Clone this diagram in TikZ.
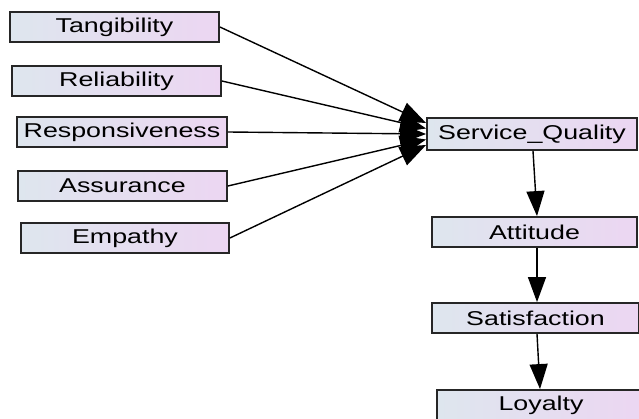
\documentclass[tikz,border=0pt]{standalone}
\usepackage{fontspec}
\setmainfont{Liberation Sans}
\usetikzlibrary{arrows.meta}
\definecolor{boxleft}{RGB}{222,230,238}
\definecolor{boxright}{RGB}{236,214,242}
\begin{document}
\begin{tikzpicture}[x=1pt,y=-1pt,
  var/.style={draw=black!85, line width=1.8pt, rectangle, inner sep=0pt,
    left color=boxleft, right color=boxright,
    minimum height=30pt, font=\fontsize{20}{20}\selectfont},
  link/.style={line width=1.4pt, -{Triangle[length=25pt,width=18pt]}},
  fanin/.style={line width=1.4pt, -{Triangle[length=26pt,width=20pt]}}
]
\useasboundingbox (0,0) rectangle (639,419);
\newcommand\wide[1]{\scalebox{1.34}[1]{#1}}

\node[var, minimum width=209pt] (tang) at (114.5,27) {\wide{Tangibility}};
\node[var, minimum width=209pt] (rel)  at (116.5,81) {\wide{Reliability}};
\node[var, minimum width=210pt] (resp) at (122,132) {\wide{Responsiveness}};
\node[var, minimum width=209pt] (assu) at (122.5,186) {\wide{Assurance}};
\node[var, minimum width=208pt] (emp)  at (125,238) {\wide{Empathy}};

\node[var, minimum width=210pt, minimum height=32pt] (sq) at (532,134) {\wide{Service\_Quality}};
\node[var, minimum width=205pt, minimum height=30pt] (att) at (534.5,232) {\wide{Attitude}};
\node[var, minimum width=207pt] (sat) at (535.5,318) {\wide{Satisfaction}};
\node[var, minimum width=208pt] (loy) at (541,405) {\wide{Loyalty}};

% canvas shifts point upwards, so a positive yshift lands higher on the page
\draw[fanin] (tang.east) -- ([yshift=11pt]sq.west);
\draw[fanin] (rel.east)  -- ([yshift=5.5pt]sq.west);
\draw[fanin] (resp.east) -- (sq.west);
\draw[fanin] (assu.east) -- ([yshift=-5.5pt]sq.west);
\draw[fanin] (emp.east)  -- ([yshift=-11pt]sq.west);

\draw[link] ([xshift=1pt]sq.south) -- ([xshift=2.5pt]att.north);
\draw[link] ([xshift=2.5pt]att.south) -- ([xshift=1.5pt]sat.north);
\draw[link] ([xshift=1.5pt]sat.south) -- ([xshift=-1pt]loy.north);
\end{tikzpicture}
\end{document}
